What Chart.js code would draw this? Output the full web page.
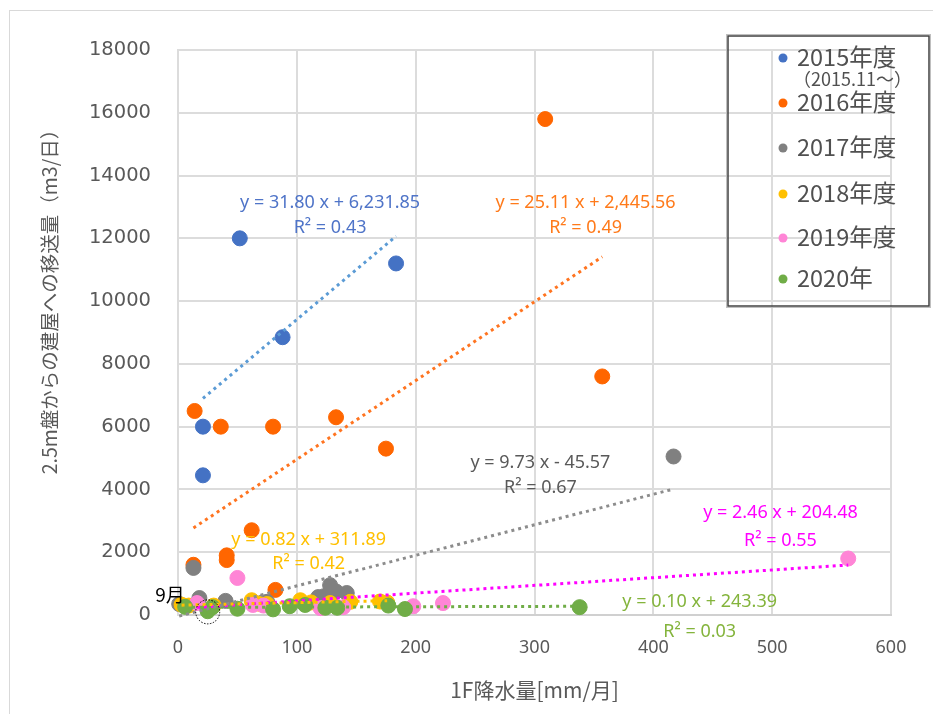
<!DOCTYPE html>
<html lang="ja">
<head>
<meta charset="utf-8">
<title>1F降水量と移送量</title>
<script src="https://cdn.jsdelivr.net/npm/chart.js@4.4.1/dist/chart.umd.min.js"></script>
<style>
  html, body { margin: 0; padding: 0; background: #fff; }
  #wrap { position: relative; width: 933px; height: 714px; }
</style>
</head>
<body>
<div id="wrap"><canvas id="myChart" width="933" height="714"></canvas></div>
<script>
// series names (fiscal years)
const seriesNames = ['2015年度', '2016年度', '2017年度', '2018年度', '2019年度', '2020年'];
const legendNote = '（2015.11～）';

// x: 1F rainfall [mm/month], y: transfer volume [m3/day]
const rain2015 = [52, 183.5, 88, 21, 21];
const flow2015 = [12000, 11200, 8850, 6000, 4450];

const rain2016 = [309, 357, 14, 36, 80, 133, 175, 62, 41, 41, 13, 82];
const flow2016 = [15800, 7600, 6500, 6000, 6000, 6300, 5300, 2700, 1900, 1750, 1600, 800];

const rain2017 = [1, 13, 18, 40, 71, 75, 118, 123, 128, 133, 142, 417];
const flow2017 = [350, 1500, 540, 450, 400, 420, 570, 600, 950, 750, 700, 5050];

const rain2018 = [3, 9, 30, 62, 68, 75, 103, 112, 128, 145, 170, 176];
const flow2018 = [330, 300, 300, 470, 360, 350, 470, 400, 380, 420, 430, 400];

const rain2019 = [16, 50, 63, 72, 120, 139, 198, 223, 564];
const flow2019 = [380, 1180, 320, 300, 220, 250, 280, 380, 1800];

const rain2020 = [6, 25, 29, 50, 80, 94, 107, 124, 134, 177, 191, 338];
const flow2020 = [260, 120, 250, 200, 180, 280, 320, 230, 230, 300, 190, 250];

// linear trendlines as printed on the chart
const slopes = [31.80, 25.11, 9.73, 0.82, 2.46, 0.10];
const intercepts = [6231.85, 2445.56, -45.57, 311.89, 204.48, 243.39];
const rSquared = [0.43, 0.49, 0.67, 0.42, 0.55, 0.03];

const xTicks = [0, 100, 200, 300, 400, 500, 600];
const yTicks = [0, 2000, 4000, 6000, 8000, 10000, 12000, 14000, 16000, 18000];

const rainData = [rain2015, rain2016, rain2017, rain2018, rain2019, rain2020];
const flowData = [flow2015, flow2016, flow2017, flow2018, flow2019, flow2020];

const pointColors = ['#4472C4', '#FF6600', '#808080', '#FFC000', '#FF85D6', '#70AD47'];
const trendColors = ['#5B9BD5', '#FF7420', '#8C8C8C', '#FFC000', '#FF00FF', '#70AD47'];
const labelColors = ['#4F74C8', '#FF7A1A', '#595959', '#FFC000', '#FF00FF', '#84B43C'];

const jpFont = '"Noto Sans CJK JP", "Noto Sans", sans-serif';

function fmtNum(v) {
    return Math.abs(v).toLocaleString('en-US', { minimumFractionDigits: 2, maximumFractionDigits: 2 });
}
function eqText(i) {
    const sign = intercepts[i] < 0 ? ' - ' : ' + ';
    return 'y = ' + slopes[i].toFixed(2) + ' x' + sign + fmtNum(intercepts[i]);
}

const datasets = [];
rainData.forEach((xs, i) => {
    datasets.push({
        type: 'scatter',
        label: seriesNames[i],
        data: xs.map((x, k) => ({ x: x, y: flowData[i][k] })),
        backgroundColor: pointColors[i],
        borderColor: pointColors[i],
        borderWidth: 1,
        pointRadius: 7.5,
        pointHoverRadius: 7.5,
        clip: false,
        order: 7 - i
    });
});
rainData.forEach((xs, i) => {
    const x0 = Math.min(...xs);
    const x1 = Math.max(...xs);
    datasets.push({
        type: 'line',
        label: seriesNames[i] + ' trend',
        data: [
            { x: x0, y: slopes[i] * x0 + intercepts[i] },
            { x: x1, y: slopes[i] * x1 + intercepts[i] }
        ],
        borderColor: trendColors[i],
        borderWidth: 3,
        borderDash: [3, 4],
        pointRadius: 0,
        fill: false,
        clip: false,
        order: 0
    });
});

// where the trendline equations sit (data coords of first line centre) and line gap in px
const eqPlacement = [
    { x: 128, y: 13120, gap: 25 },
    { x: 343, y: 13120, gap: 25 },
    { x: 305, y: 4840, gap: 25 },
    { x: 110, y: 2390, gap: 24 },
    { x: 507, y: 3250, gap: 28 },
    { x: 439, y: 414, gap: 30 }
];

const extrasPlugin = {
    id: 'extras',
    beforeDraw(chart) {
        const ctx = chart.ctx;
        ctx.save();
        ctx.fillStyle = '#fff';
        ctx.fillRect(0, 0, chart.width, chart.height);
        ctx.strokeStyle = '#d9d9d9';
        ctx.lineWidth = 1;
        ctx.strokeRect(9.5, 10.5, chart.width, chart.height);
        ctx.restore();
    },
    afterDatasetsDraw(chart) {
        const ctx = chart.ctx;
        const xs = chart.scales.x;
        const ys = chart.scales.y;
        ctx.save();
        ctx.textAlign = 'center';
        ctx.textBaseline = 'middle';
        ctx.font = '18px "Noto Sans", sans-serif';
        eqPlacement.forEach((p, i) => {
            const px = xs.getPixelForValue(p.x);
            const py = ys.getPixelForValue(p.y);
            ctx.fillStyle = labelColors[i];
            ctx.fillText(eqText(i), px, py);
            ctx.fillText('R² = ' + rSquared[i].toFixed(2), px, py + p.gap);
        });

        // September marker
        const cx = xs.getPixelForValue(25);
        const cy = ys.getPixelForValue(100);
        ctx.strokeStyle = '#000';
        ctx.lineWidth = 1;
        ctx.setLineDash([1.5, 1.5]);
        ctx.beginPath();
        ctx.arc(cx, cy, 12, 0, Math.PI * 2);
        ctx.stroke();
        ctx.setLineDash([]);
        ctx.fillStyle = '#000';
        ctx.textAlign = 'right';
        ctx.font = '19px ' + jpFont;
        ctx.fillText('9月', cx - 23, cy - 17);

        // y axis title
        ctx.translate(50, 297);
        ctx.rotate(-Math.PI / 2);
        ctx.textAlign = 'center';
        ctx.fillStyle = '#595959';
        ctx.font = '19.5px ' + jpFont;
        ctx.fillText('2.5m盤からの建屋への移送量（m3/日）', 0, 0);
        ctx.restore();
    },
    afterDraw(chart) {
        // legend box
        const ctx = chart.ctx;
        ctx.save();
        ctx.strokeStyle = '#bfbfbf';
        ctx.lineWidth = 1;
        ctx.strokeRect(726.5, 34.5, 204, 273);
        ctx.strokeStyle = '#404040';
        ctx.lineWidth = 1.5;
        ctx.strokeRect(728, 36, 201, 270);
        const rows = [57, 102, 147, 193, 237, 278];
        ctx.textBaseline = 'middle';
        ctx.textAlign = 'left';
        rows.forEach((ry, i) => {
            ctx.fillStyle = pointColors[i];
            ctx.beginPath();
            ctx.arc(783, ry + 1, 4.5, 0, Math.PI * 2);
            ctx.fill();
            ctx.fillStyle = '#505050';
            ctx.font = '23.5px ' + jpFont;
            ctx.fillText(seriesNames[i], 797, ry);
        });
        ctx.font = '18px ' + jpFont;
        ctx.fillText(legendNote, 793, 79);
        ctx.restore();
    }
};

const chartElement = document.getElementById('myChart');
const cty = chartElement.getContext('2d');
new Chart(cty, {
    data: { datasets: datasets },
    options: {
        responsive: false,
        devicePixelRatio: 1,
        animation: false,
        layout: {
            padding: { left: 0, right: 42, top: 50, bottom: 0 }
        },
        plugins: {
            legend: { display: false },
            tooltip: { enabled: false }
        },
        scales: {
            x: {
                type: 'linear',
                min: xTicks[0],
                max: xTicks[xTicks.length - 1],
                afterFit: function (scale) { scale.height = 99; },
                afterBuildTicks: function (scale) {
                    scale.ticks = xTicks.map(v => ({ value: v }));
                },
                grid: { color: '#dcdcdc', lineWidth: 2, drawTicks: false },
                border: { color: '#d0d0d0', width: 2 },
                ticks: {
                    color: '#595959',
                    padding: 22,
                    font: { family: '"Noto Sans", sans-serif', size: 18 },
                    callback: v => String(v)
                },
                title: {
                    display: true,
                    text: '1F降水量[mm/月]',
                    color: '#595959',
                    font: { family: jpFont, size: 21 },
                    padding: { top: 0, bottom: 11 }
                }
            },
            y: {
                type: 'linear',
                min: yTicks[0],
                max: yTicks[yTicks.length - 1],
                afterFit: function (scale) { scale.width = 178; },
                afterBuildTicks: function (scale) {
                    scale.ticks = yTicks.map(v => ({ value: v }));
                },
                grid: { color: '#dcdcdc', lineWidth: 2, drawTicks: false },
                border: { color: '#dcdcdc', width: 2 },
                ticks: {
                    color: '#595959',
                    padding: 27,
                    font: { family: '"DejaVu Sans", sans-serif', size: 19.5 },
                    callback: v => String(v)
                }
            }
        }
    },
    plugins: [extrasPlugin]
});
</script>
</body>
</html>
